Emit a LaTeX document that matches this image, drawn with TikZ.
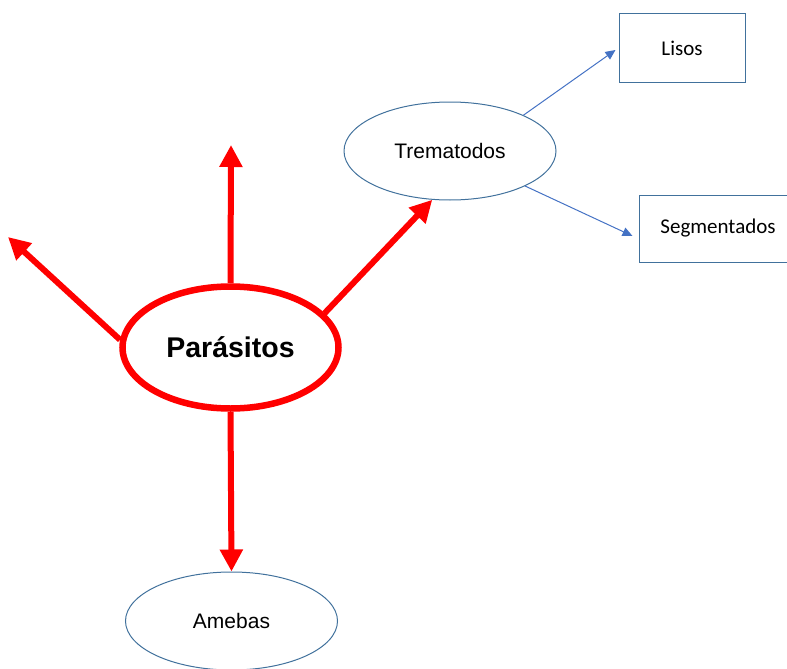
\documentclass[tikz,border=0pt]{standalone}
\usepackage{fontspec}
\setmainfont{Liberation Sans}
\newfontfamily\calfont{Carlito}
\usetikzlibrary{arrows.meta,shapes.geometric}
\definecolor{outl}{HTML}{41719C}
\definecolor{arrblue}{HTML}{4472C4}
\definecolor{redone}{HTML}{FF0000}
\begin{document}
\begin{tikzpicture}[x=1pt,y=-1pt,
 redell/.style={ellipse, draw=redone, line width=6.5pt, minimum width=216pt, minimum height=122pt, inner sep=0pt, font=\fontsize{28.5}{30}\selectfont\bfseries},
 blueell/.style={ellipse, draw=outl, line width=1pt, minimum width=212pt, minimum height=98pt, inner sep=0pt, font=\fontsize{21}{24}\selectfont},
 boxnode/.style={rectangle, draw=outl, line width=1pt, inner sep=0pt, font=\calfont\fontsize{21}{24}\selectfont},
 redarrow/.style={draw=redone, line width=6pt, -{Triangle[length=22pt,width=22pt]}},
 bluearrow/.style={draw=arrblue, line width=1pt, -{Triangle[length=10pt,width=9pt]}}]
\useasboundingbox (0,0) rectangle (787,669);
\node[redell] (par) at (230.5,347.5) {Parásitos};
\node[blueell] (trem) at (450,151) {Trematodos};
\node[blueell] (ameb) at (231.5,621) {Amebas};
\node[boxnode, minimum width=126pt, minimum height=68pt] (lis) at (682,48) {Lisos};
\node[boxnode, minimum width=158pt, minimum height=67pt] (seg) at (718,228.5) {Segmentados};
\coordinate (upend) at (231,145);
\coordinate (leftend) at (8,237);
\draw[redarrow] (par.north) -- (upend);
\draw[redarrow] (par.176) -- (leftend);
\draw[redarrow] (par.20) -- (trem.250);
\draw[redarrow] (par.south) -- (ameb.north);
\draw[bluearrow] (trem.26) -- ([xshift=-3pt,yshift=-2pt]lis.west);
\draw[bluearrow] (trem.335) -- ([xshift=-6pt,yshift=-7.5pt]seg.west);
\end{tikzpicture}
\end{document}
